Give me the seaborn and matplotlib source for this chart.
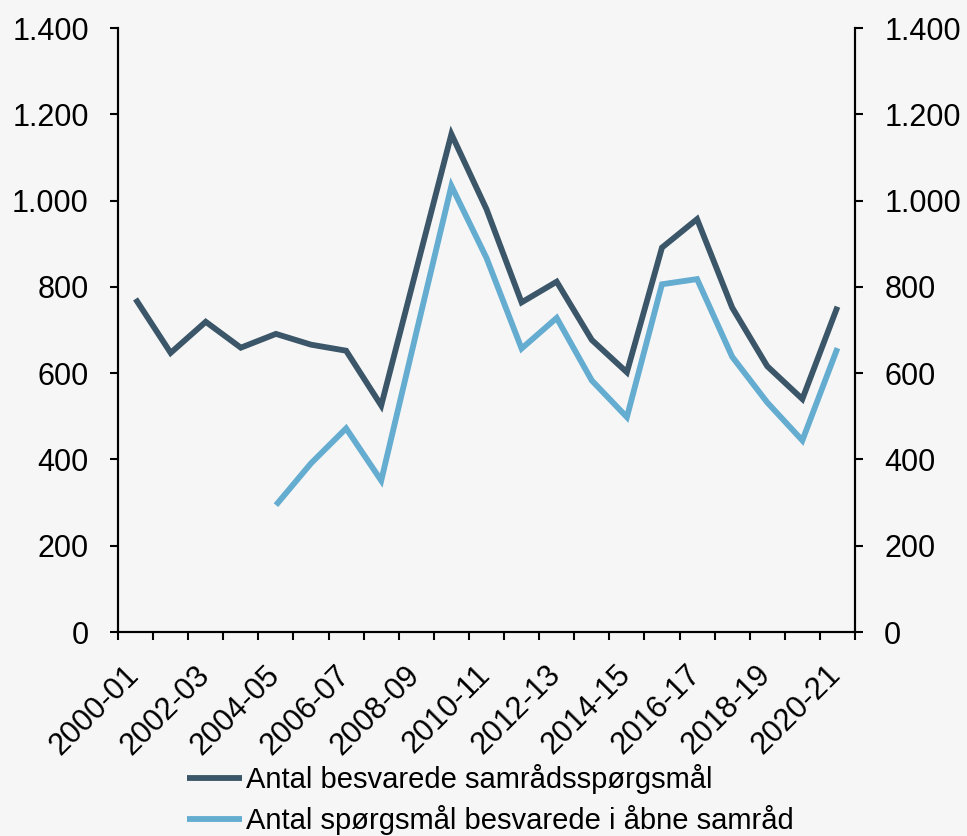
import pandas as pd
import seaborn as sns
import matplotlib.pyplot as plt
from matplotlib.ticker import FuncFormatter, FixedLocator
from matplotlib.transforms import ScaledTranslation

# data
seasons = ['2000-01', '2001-02', '2002-03', '2003-04', '2004-05', '2005-06', '2006-07',
           '2007-08', '2008-09', '2009-10', '2010-11', '2011-12', '2012-13', '2013-14',
           '2014-15', '2015-16', '2016-17', '2017-18', '2018-19', '2019-20', '2020-21']
samraad = [772, 647, 719, 659, 691, 666, 652, 525, 840, 1154, 980, 764, 812, 677,
           602, 891, 957, 752, 616, 540, 754]
aabne_seasons = seasons[4:]
aabne = [294, 391, 472, 351, 694, 1034, 867, 657, 728, 583, 498, 806, 818, 638,
         532, 444, 658]

navn1 = 'Antal besvarede samrådsspørgsmål'
navn2 = 'Antal spørgsmål besvarede i åbne samråd'

df = pd.concat([
    pd.DataFrame({'saeson': seasons, 'antal': samraad, 'serie': navn1}),
    pd.DataFrame({'saeson': aabne_seasons, 'antal': aabne, 'serie': navn2}),
], ignore_index=True)

bg = '#f6f6f6'
sns.set_theme(style='white', rc={'axes.facecolor': bg, 'figure.facecolor': bg,
                                 'text.color': 'black', 'xtick.color': 'black',
                                 'ytick.color': 'black'})
plt.rcParams['font.family'] = ['Liberation Sans', 'DejaVu Sans']

fig = plt.figure(figsize=(9.67, 8.36), dpi=100)
ax = fig.add_axes([118 / 967, 1 - 632 / 836, (855 - 118) / 967, (632 - 28) / 836])

sns.lineplot(data=df, x='saeson', y='antal', hue='serie',
             palette={navn1: '#3b5668', navn2: '#64acd0'},
             linewidth=4.2, ax=ax, legend=True, sort=False)
for ln in ax.lines:
    ln.set_solid_joinstyle('miter')
    ln.set_solid_capstyle('butt')

fmt = FuncFormatter(lambda v, p: f'{int(v):,}'.replace(',', '.'))
yt = list(range(0, 1401, 200))

ax.set_xlim(-0.5, len(seasons) - 0.5)
ax.set_ylim(0, 1400)
ax.set_yticks(yt)
ax.yaxis.set_major_formatter(fmt)
ax.set_xlabel('')
ax.set_ylabel('')

ax.set_xticks(range(0, len(seasons), 2))
ax.set_xticklabels(seasons[::2], rotation=45, ha='right', va='top')
ax.xaxis.set_minor_locator(FixedLocator([i - 0.5 for i in range(len(seasons) + 1)]))
ax.tick_params(axis='x', which='major', length=0, pad=20, labelsize=22)
ax.tick_params(axis='x', which='minor', length=6, width=1.5, direction='out',
               bottom=True, color='black')
ax.tick_params(axis='y', which='major', length=6, width=1.5, direction='out',
               left=True, pad=15, labelsize=22, color='black')

ax2 = ax.twinx()
ax2.set_ylim(0, 1400)
ax2.set_yticks(yt)
ax2.yaxis.set_major_formatter(fmt)
ax2.tick_params(axis='y', length=6, width=1.5, direction='out', right=True,
                pad=15, labelsize=22, color='black')

for a in (ax, ax2):
    a.spines['top'].set_visible(False)
    for s in ('left', 'right', 'bottom'):
        a.spines[s].set_color('black')
        a.spines[s].set_linewidth(1.5)
    a.grid(False)

# skub x-etiketterne lidt mod højre
shift = ScaledTranslation(7 / 72, 0, fig.dpi_scale_trans)
for t in ax.xaxis.get_major_ticks():
    t.label1.set_transform(t.label1.get_transform() + shift)

handles, labels = ax.get_legend_handles_labels()
ax.get_legend().remove()
fig.legend(handles, labels, loc='upper left', bbox_to_anchor=(187 / 967, 1 - 764 / 836),
           frameon=False, fontsize=21, handlelength=1.9, handletextpad=0.14,
           labelspacing=0.38, borderpad=0, borderaxespad=0)

fig.savefig('out.png', dpi=100, facecolor=bg)
